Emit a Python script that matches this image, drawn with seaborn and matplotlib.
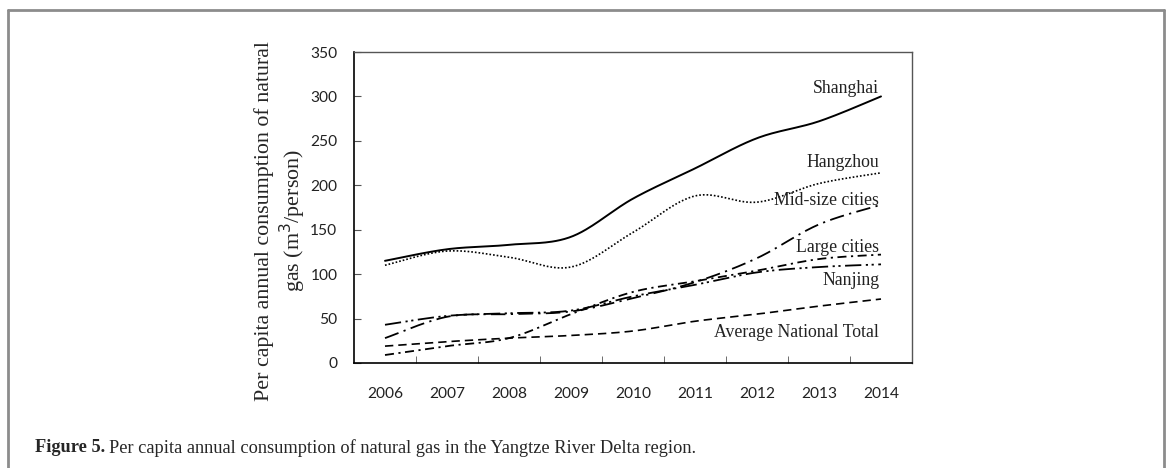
import numpy as np
import pandas as pd
import matplotlib
matplotlib.use("Agg")
import matplotlib.pyplot as plt
from matplotlib.lines import Line2D
import seaborn as sns

# values (m3 per person)
years = [2006, 2007, 2008, 2009, 2010, 2011, 2012, 2013, 2014]
shanghai = [115, 128, 133, 142, 185, 219, 253, 272, 300]
hangzhou = [110, 126, 119, 108, 147, 188, 181, 202, 214]
midsize = [28, 52, 55, 58, 73, 91, 118, 156, 178]
large = [9, 19, 28, 55, 80, 92, 104, 117, 122]
nanjing = [43, 53, 56, 59, 75, 88, 102, 108, 111]
national = [19, 24, 28, 31, 36, 47, 55, 64, 72]

series_names = ["Shanghai", "Hangzhou", "Mid-size cities", "Large cities",
                "Nanjing", "Average National Total"]
y_ticks = [0, 50, 100, 150, 200, 250, 300, 350]


def smooth(xs, ys, n=30):
    # excel-style smoothed line: bezier segments with catmull-rom handles
    p = np.column_stack([xs, ys]).astype(float)
    p = np.vstack([p[0], p, p[-1]])
    out = []
    t = np.linspace(0, 1, n)[:, None]
    for i in range(1, len(p) - 2):
        p0, p1, p2, p3 = p[i - 1], p[i], p[i + 1], p[i + 2]
        c1 = p1 + (p2 - p0) / 6
        c2 = p2 - (p3 - p1) / 6
        seg = ((1 - t) ** 3) * p1 + 3 * ((1 - t) ** 2) * t * c1 \
            + 3 * (1 - t) * t ** 2 * c2 + t ** 3 * p2
        out.append(seg if i == 1 else seg[1:])
    out = np.vstack(out)
    return out[:, 0], out[:, 1]


sns.set_style("ticks")
plt.rcParams["font.family"] = ["Liberation Serif", "DejaVu Serif"]

fig = plt.figure(figsize=(11.7, 4.68), dpi=100)
ax = fig.add_axes([354 / 1170, 1 - 363 / 468, 558 / 1170, 311 / 468])

pos = np.arange(len(years))
styles = {
    "Shanghai": (shanghai, "-", 1.4),
    "Hangzhou": (hangzhou, (0, (1, 1.2)), 1.2),
    "Mid-size cities": (midsize, (0, (8, 3, 1.2, 3)), 1.3),
    "Large cities": (large, (0, (5, 2.5, 1.2, 2.5)), 1.3),
    "Nanjing": (nanjing, (0, (9, 2.5, 1.2, 2, 1.2, 2.5)), 1.3),
    "Average National Total": (national, (0, (5, 3)), 1.2),
}
for name in series_names:
    vals, ls, lw = styles[name]
    sx, sy = smooth(pos, vals)
    df = pd.DataFrame({"x": sx, "y": sy})
    sns.lineplot(data=df, x="x", y="y", ax=ax, color="black", linestyle=ls,
                 linewidth=lw, sort=False, estimator=None)

# line labels
label_pos = {
    "Shanghai": 309,
    "Hangzhou": 226,
    "Mid-size cities": 183,
    "Large cities": 130,
    "Nanjing": 93,
    "Average National Total": 34,
}
for name in series_names:
    ax.text(7.97, label_pos[name], name, ha="right", va="center",
            fontsize=12.8, color="#222222")

ax.set_xlim(-0.5, len(years) - 0.5)
ax.set_ylim(0, 350)
ax.set_yticks(y_ticks)
ax.set_xticks(pos)
ax.set_xticklabels([str(y) for y in years])
ax.set_xticks(np.arange(0.5, len(years) - 1, 1), minor=True)
ax.tick_params(axis="x", which="major", length=0, pad=17)
ax.tick_params(axis="x", which="minor", direction="in", length=5,
               color="#555555")
ax.tick_params(axis="y", direction="in", length=5, pad=12, color="#555555")
for lab in ax.get_xticklabels() + ax.get_yticklabels():
    lab.set_fontfamily("Lato")
    lab.set_fontsize(11.2)
    lab.set_color("#222222")

for side in ["left", "bottom"]:
    ax.spines[side].set_color("black")
    ax.spines[side].set_linewidth(1.2)
for side in ["top", "right"]:
    ax.spines[side].set_visible(True)
    ax.spines[side].set_color("#555555")
    ax.spines[side].set_linewidth(1.0)

ax.set_xlabel("")
ax.set_ylabel("Per capita annual consumption of natural\ngas (m$^3$/person)",
              fontsize=15.8, linespacing=1.2)
ax.yaxis.set_label_coords(-0.082, 0.457)

# outer frame of the figure panel
frame_kw = dict(color="#8c8c8c", linewidth=2, transform=fig.transFigure)
fl, fr, ft = 8 / 1170, 1164 / 1170, 1 - 10 / 468
fig.add_artist(Line2D([fl, fl], [0, ft], **frame_kw))
fig.add_artist(Line2D([fl, fr], [ft, ft], **frame_kw))
fig.add_artist(Line2D([fr, fr], [0, ft], **frame_kw))

# caption
cap_y = 1 - 448 / 468
t1 = fig.text(35 / 1170, cap_y, "Figure 5.", fontsize=13.2, fontweight="bold",
              va="center", ha="left")
fig.canvas.draw()
bb = t1.get_window_extent()
fig.text(bb.x1 / 1170 + 4 / 1170, cap_y,
         "Per capita annual consumption of natural gas in the Yangtze River Delta region.",
         fontsize=13.2, va="center", ha="left")

fig.savefig("out.png", dpi=100)
